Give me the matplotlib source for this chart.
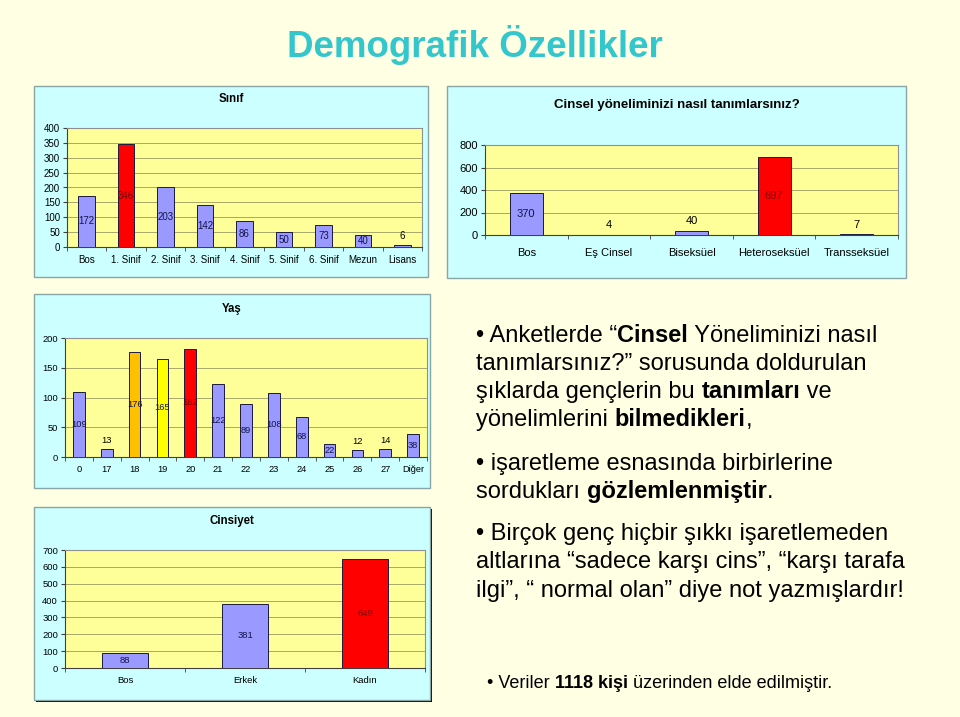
import matplotlib; matplotlib.use("Agg")
import matplotlib.pyplot as plt
from matplotlib.patches import Rectangle
import numpy as np

W, H = 960, 717
plt.rcParams['font.family'] = ['Liberation Sans', 'DejaVu Sans']

# ═══════ Data ═══════
sinif_cats = ["Bos", "1. Sinif", "2. Sinif", "3. Sinif", "4. Sinif",
              "5. Sinif", "6. Sinif", "Mezun", "Lisans"]
sinif_vals = [172, 346, 203, 142, 86, 50, 73, 40, 6]

yonelim_cats = ["Bos", "Eş Cinsel", "Biseksüel", "Heteroseksüel", "Transseksüel"]
yonelim_vals = [370, 4, 40, 697, 7]

yas_cats = ["0", "17", "18", "19", "20", "21", "22", "23", "24", "25", "26", "27", "Diğer"]
yas_vals = [109, 13, 176, 165, 182, 122, 89, 108, 68, 22, 12, 14, 38]

cins_cats = ["Bos", "Erkek", "Kadın"]
cins_vals = [88, 381, 649]

# ═══════ Styles ═══════
BG = "#FFFFE3"
PANEL = "#CCFFFF"
PLOT = "#FFFF99"
BLUE, RED, ORANGE, YELLOW = "#9999FF", "#FF0000", "#FFC000", "#FFFF00"

sinif_colors = [BLUE, RED] + [BLUE] * 7
yonelim_colors = [BLUE, BLUE, BLUE, RED, BLUE]
yas_colors = [BLUE, BLUE, ORANGE, YELLOW, RED] + [BLUE] * 8
cins_colors = [BLUE, BLUE, RED]

fig = plt.figure(figsize=(W / 100, H / 100), dpi=100, facecolor=BG)


def fbox(x0, y0, x1, y1):
    return [x0 / W, 1 - y1 / H, (x1 - x0) / W, (y1 - y0) / H]


def panel(box, edge="#8AA5A5", shadow=False):
    x0, y0, x1, y1 = box
    if shadow:
        fig.add_artist(Rectangle((x0 / W + 2 / W, 1 - (y1 + 2) / H), (x1 - x0) / W, (y1 - y0) / H,
                                 transform=fig.transFigure, fc="black", ec="black", lw=0, zorder=-3))
    fig.add_artist(Rectangle((x0 / W, 1 - y1 / H), (x1 - x0) / W, (y1 - y0) / H,
                             transform=fig.transFigure, fc=PANEL, ec=edge, lw=1, zorder=-2))


def bar_chart(pbox, abox, cats, vals, colors, ymax, step, title, title_y,
              tfs, lfs, ttfs, xpad, width=0.42):
    panel(pbox, shadow=(title == "Cinsiyet"))
    ax = fig.add_axes(fbox(*abox))
    ax.set_facecolor(PLOT)
    x = np.arange(len(cats))
    ax.bar(x, vals, width=width, color=colors, edgecolor="#1A1A40", linewidth=0.7, zorder=3)
    ax.set_xlim(-0.5, len(cats) - 0.5)
    ax.set_ylim(0, ymax)
    ax.set_yticks(np.arange(0, ymax + 1, step))
    ax.yaxis.grid(True, color="#9A9A60", lw=0.6)
    ax.set_axisbelow(True)
    for s in ["top", "right"]:
        ax.spines[s].set_color("#909090")
        ax.spines[s].set_linewidth(0.8)
    for s in ["left", "bottom"]:
        ax.spines[s].set_color("#404040")
        ax.spines[s].set_linewidth(0.8)
    ax.set_xticks(x)
    ax.set_xticklabels(cats, fontsize=tfs)
    ax.set_xticks(np.arange(-0.5, len(cats)), minor=True)
    ax.tick_params(axis="x", which="major", length=0, pad=xpad)
    ax.tick_params(axis="x", which="minor", length=3, color="#404040")
    ax.tick_params(axis="y", labelsize=tfs, length=3, pad=2, color="#404040")
    for xi, v, c in zip(x, vals, colors):
        if v < 0.09 * ymax:
            ax.annotate(str(v), (xi, v), xytext=(0, 3), textcoords="offset points",
                        ha="center", va="bottom", fontsize=lfs, color="black")
        else:
            tc = "#7A0000" if c == RED else "#14144A"
            ax.text(xi, v / 2, str(v), ha="center", va="center", fontsize=lfs, color=tc, zorder=4)
    cx = (pbox[0] + pbox[2]) / 2
    fig.text(cx / W, 1 - title_y / H, title, ha="center", va="center",
             fontsize=ttfs, fontweight="bold")
    return ax


bar_chart((34, 86, 428, 277), (67, 128, 422, 247), sinif_cats, sinif_vals, sinif_colors,
          400, 50, "Sınıf", 99, 7, 7, 8.3, 5.5)
bar_chart((447, 86, 906, 278), (485, 145, 898, 235), yonelim_cats, yonelim_vals, yonelim_colors,
          800, 200, "Cinsel yöneliminizi nasıl tanımlarsınız?", 105, 8, 8, 9.5, 9, width=0.4)
bar_chart((34, 294, 430, 488), (65, 338, 427, 457), yas_cats, yas_vals, yas_colors,
          200, 50, "Yaş", 309, 6.7, 6.7, 8.3, 6)
bar_chart((34, 507, 430, 700), (65, 550, 425, 668), cins_cats, cins_vals, cins_colors,
          700, 100, "Cinsiyet", 521, 6.8, 6.8, 8.3, 6, width=0.39)

# ═══════ Title ═══════
fig.text(475 / W, 1 - 57 / H, "Demografik Özellikler", ha="center", va="baseline",
         fontsize=26.5, fontweight="bold", color="#33C6CC")

# ═══════ Rich text block ═══════
renderer = fig.canvas.get_renderer()


def text_width(txt, size, weight):
    t = fig.text(0, 0, txt + "x", fontsize=size, fontweight=weight)
    r = fig.text(0, 0, "x", fontsize=size, fontweight=weight)
    w = t.get_window_extent(renderer).width - r.get_window_extent(renderer).width
    t.remove(); r.remove()
    return w


def rich_line(x, y, parts, size):
    for txt, bold in parts:
        weight = "bold" if bold else "normal"
        fig.text(x / W, 1 - y / H, txt, fontsize=size, fontweight=weight,
                 ha="left", va="baseline", color="black")
        x += text_width(txt, size, weight)


lines = [
    (342, [("• Anketlerde “", 0), ("Cinsel", 1), (" Yöneliminizi nasıl", 0)]),
    (370, [("tanımlarsınız?” sorusunda doldurulan", 0)]),
    (398, [("şıklarda gençlerin bu ", 0), ("tanımları", 1), (" ve", 0)]),
    (426, [("yönelimlerini ", 0), ("bilmedikleri", 1), (",", 0)]),
    (470, [("• işaretleme esnasında birbirlerine", 0)]),
    (498, [("sordukları ", 0), ("gözlemlenmiştir", 1), (".", 0)]),
    (540, [("• Birçok genç hiçbir şıkkı işaretlemeden", 0)]),
    (568, [("altlarına “sadece karşı cins”, “karşı tarafa", 0)]),
    (597, [("ilgi”, “ normal olan” diye not yazmışlardır!", 0)]),
]
for y, parts in lines:
    rich_line(476, y, parts, 17)

rich_line(487, 688, [("• Veriler ", 0), ("1118 kişi", 1), (" üzerinden elde edilmiştir.", 0)], 13)

fig.savefig("out.png", dpi=100, facecolor=BG)
